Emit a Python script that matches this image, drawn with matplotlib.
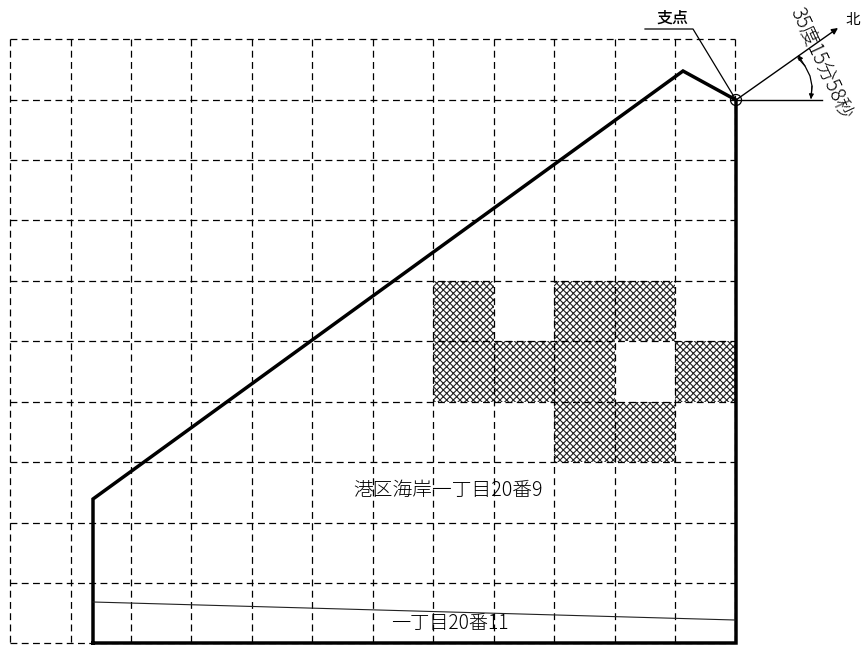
import matplotlib
matplotlib.use('Agg')
import matplotlib.pyplot as plt
from matplotlib.patches import Rectangle, Circle

plt.rcParams['font.family'] = ['Noto Sans CJK JP', 'DejaVu Sans']
plt.rcParams['hatch.linewidth'] = 0.8

# grid lines in pixels
grid_x = [10, 71, 131, 191, 252, 312, 373, 433, 494, 554, 615, 675, 735]
grid_y = [39, 100, 160, 220, 281, 341, 402, 462, 523, 583, 643]

# hatched cells as (column, row)
hatched_cols = [7, 9, 10, 7, 8, 9, 11, 9, 10]
hatched_rows = [4, 4, 4, 5, 5, 5, 5, 6, 6]

# lot outline
lot_x = [93, 93, 683, 736, 736, 93]
lot_y = [643, 499, 71, 100, 643, 643]

# thin boundary
line_x = [93, 735]
line_y = [602, 620]

# leader for 支点 and north arrow
leader_x = [645, 693, 736]
leader_y = [29, 29, 100]
north_x = [736, 838]
north_y = [100, 28]
base_x = [736, 822]
base_y = [100, 100]
arc_x = [798, 805, 810, 812, 811]
arc_y = [58, 66, 76, 86, 98]

fig = plt.figure(figsize=(8.62, 6.46), dpi=100)
ax = fig.add_axes([0, 0, 1, 1])
ax.set_xlim(0, 862)
ax.set_ylim(646, 0)
ax.axis('off')

# hatching
for c, r in zip(hatched_cols, hatched_rows):
    ax.add_patch(Rectangle((grid_x[c], grid_y[r]), grid_x[c + 1] - grid_x[c],
                           grid_y[r + 1] - grid_y[r], fill=False,
                           hatch='xxxxx', edgecolor='#222222', linewidth=0))

# dashed grid
for x in grid_x:
    ax.plot([x, x], [grid_y[0], grid_y[-1]], color='black', lw=0.9,
            dashes=(5.5, 3.5), zorder=2)
for y in grid_y:
    ax.plot([grid_x[0], grid_x[-1]], [y, y], color='black', lw=0.9,
            dashes=(5.5, 3.5), zorder=2)

# outline
ax.plot(lot_x, lot_y, color='black', lw=2.5, solid_joinstyle='miter', zorder=3)
ax.plot(line_x, line_y, color='#222222', lw=0.8, zorder=3)

# north mark
ax.plot(leader_x, leader_y, color='black', lw=0.9, zorder=3)
ax.plot(base_x, base_y, color='black', lw=1.0, zorder=3)
ax.annotate('', xy=(north_x[1], north_y[1]), xytext=(north_x[0], north_y[0]),
            arrowprops=dict(arrowstyle='-|>', color='black', lw=1.0, mutation_scale=9,
                            shrinkA=0, shrinkB=0))
ax.plot(arc_x, arc_y, color='black', lw=0.9, zorder=3)
ax.annotate('', xy=(arc_x[0], arc_y[0] - 3), xytext=(arc_x[1], arc_y[1]),
            arrowprops=dict(arrowstyle='-|>', color='black', lw=0.8, mutation_scale=7,
                            shrinkA=0, shrinkB=0))
ax.annotate('', xy=(arc_x[-1], arc_y[-1] + 1), xytext=(arc_x[-2], arc_y[-2]),
            arrowprops=dict(arrowstyle='-|>', color='black', lw=0.8, mutation_scale=7,
                            shrinkA=0, shrinkB=0))
ax.add_patch(Circle((736, 100), 5.5, fill=False, edgecolor='black', lw=0.9, zorder=4))

# text
ax.text(672, 18, '支点', fontsize=11.5, ha='center', va='center', fontweight='medium')
ax.text(853, 20, '北', fontsize=10.5, ha='center', va='center')
ax.text(820, 64, '35度15分58秒', fontsize=14, rotation=-65, ha='center', va='center',
        rotation_mode='anchor', fontweight='light', zorder=5)
ax.text(448, 490, '港区海岸一丁目20番9', fontsize=14.2, ha='center', va='center',
        fontweight='light', zorder=5)
ax.text(450, 623, '一丁目20番11', fontsize=13.8, ha='center', va='center',
        fontweight='light', zorder=5)

fig.savefig('out.png', dpi=100, facecolor='white')
